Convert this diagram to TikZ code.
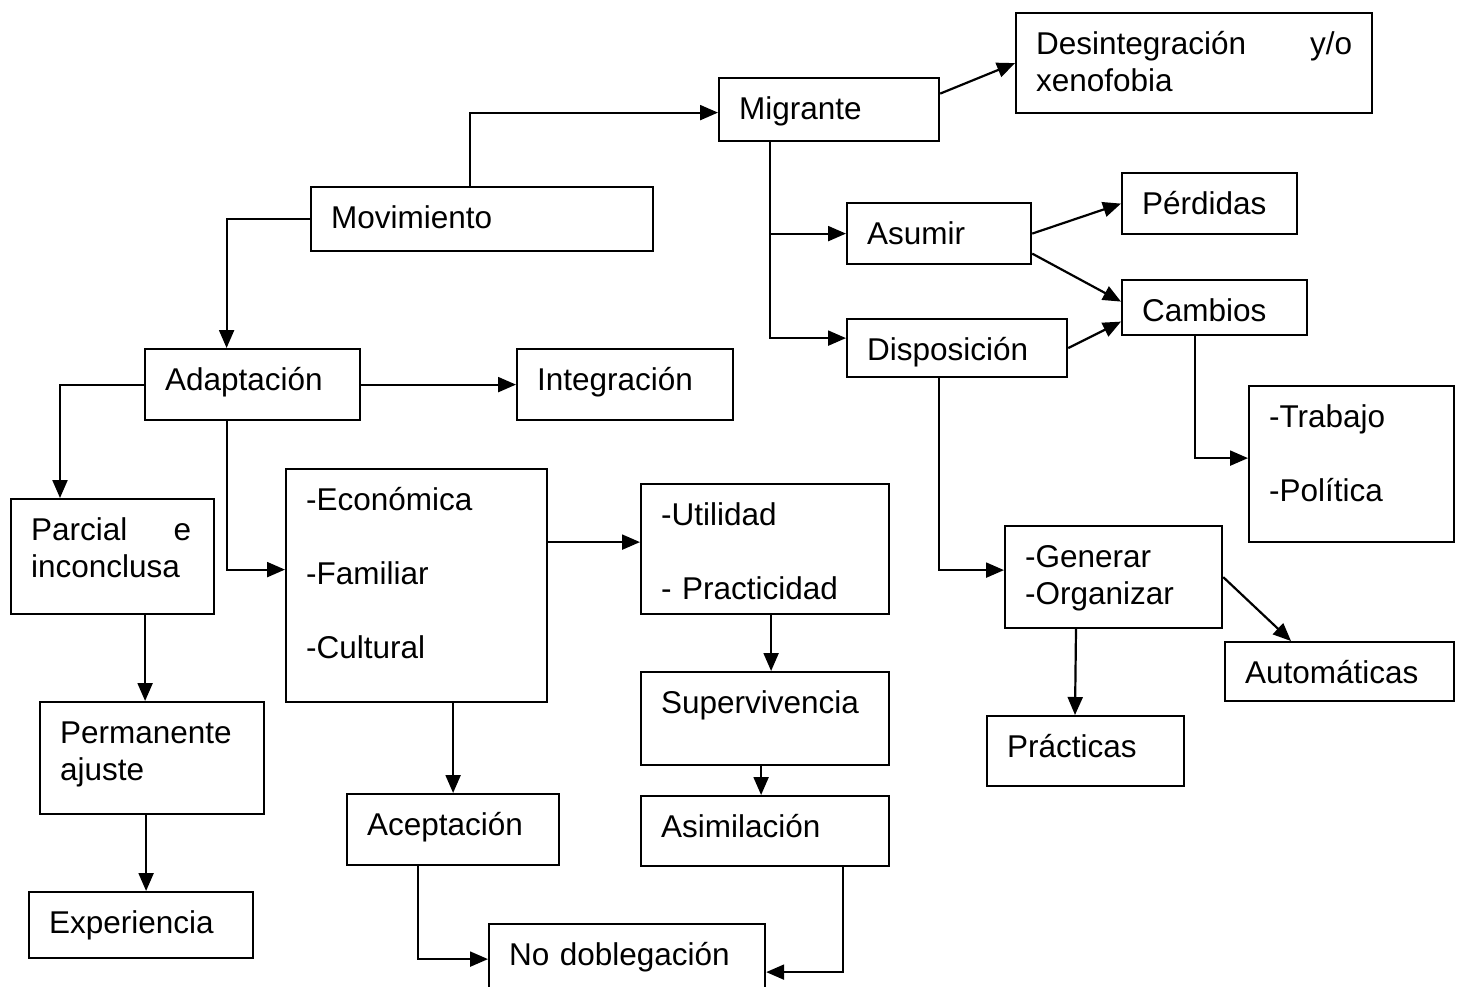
\documentclass[tikz,border=0pt]{standalone}
\usepackage{fontspec}
\setmainfont{Liberation Sans}
\usetikzlibrary{arrows.meta}
\begin{document}
\begin{tikzpicture}[x=1pt, y=-1pt, font=\fontsize{31.5}{37}\selectfont, line width=2.2pt,
          >={Triangle[length=18pt, width=15pt]},
          bx/.style={draw, anchor=north west, align=left, inner xsep=20pt, inner ysep=0pt, text height=41pt}]
  \useasboundingbox (0,0) rectangle (1461,986);
  % upper branch
  \node[bx, text width=302pt, text depth=23pt] (mov) at (310,186) {Movimiento};
  \node[bx, text width=180pt, text depth=22pt] (mig) at (718,77) {Migrante};
  \node[bx, text width=316pt, text depth=59pt] (des) at (1015,12) {\hbox to 316pt{Desintegración\hfill y/o}\\xenofobia};
  \node[bx, text width=144pt, text depth=20pt] (asu) at (846,202) {Asumir};
  \node[bx, text width=135pt, text depth=20pt] (per) at (1121,172) {Pérdidas};
  \node[bx, text width=145pt, text depth=14pt] (cam) at (1121,279) {Cambios};
  \node[bx, text width=180pt, text depth=17pt] (dis) at (846,318) {Disposición};
  \node[bx, text width=165pt, text depth=115pt] (tra) at (1248,385) {-Trabajo\\[37pt]-Política};
  \node[bx, text width=177pt, text depth=61pt] (gen) at (1004,525) {-Generar\\-Organizar};
  \node[bx, text width=189pt, text depth=18pt] (aut) at (1224,641) {Automáticas};
  \node[bx, text width=157pt, text depth=29pt] (pra) at (986,715) {Prácticas};
  % lower branch
  \node[bx, text width=175pt, text depth=30pt] (ada) at (144,348) {Adaptación};
  \node[bx, text width=176pt, text depth=30pt] (int) at (516,348) {Integración};
  \node[bx, text width=163pt, text depth=74pt] (par) at (10,498) {\hbox to 160pt{Parcial\hfill e}\\inconclusa};
  \node[bx, text width=221pt, text depth=192pt] (eco) at (285,468) {-Económica\\[37pt]-Familiar\\[37pt]-Cultural};
  \node[bx, text width=208pt, text depth=89pt] (uti) at (640,483) {-Utilidad\\[37pt]- Practicidad};
  \node[bx, text width=184pt, text depth=71pt] (pme) at (39,701) {Permanente\\ajuste};
  \node[bx, text width=208pt, text depth=52pt] (sup) at (640,671) {Supervivencia};
  \node[bx, text width=172pt, text depth=30pt] (ace) at (346,793) {Aceptación};
  \node[bx, text width=208pt, text depth=29pt] (asi) at (640,795) {Asimilación};
  \node[bx, text width=184pt, text depth=25pt] (exp) at (28,891) {Experiencia};
  \node[bx, text width=236pt, text depth=29pt] (nod) at (488,923) {No doblegación};
  % connectors
  \draw[->] ([xshift=-12pt]mov.north) |- ([yshift=-3pt]mig.west);
  \draw[->] (mov.west) -| ([xshift=-26pt]ada.north);
  \draw[->] ([yshift=16pt]mig.east) -- (des.west);
  \draw[->] ([xshift=52pt]mig.south west) |- ([yshift=10pt]dis.west);
  \draw[->] ([xshift=52pt]mig.south west |- asu.west) -- (asu.west);
  \draw[->] (asu.east) -- (per.west);
  \draw[->] ([yshift=-20pt]asu.east) -- ([yshift=6pt]cam.west);
  \draw[->] (dis.east) -- ([yshift=-14pt]cam.west);
  \draw[->] ([xshift=-20pt]cam.south) |- ([yshift=6pt]tra.west);
  \draw[->] ([xshift=-18pt]dis.south) |- ([yshift=7pt]gen.west);
  \draw[->] (gen.east) -- ([xshift=67pt]aut.north west);
  \draw[->] ([xshift=72pt]gen.south west) -- ([xshift=89pt]pra.north west);
  \draw[->] (ada.east) -- (int.west);
  \draw[->] (ada.west) -| ([xshift=50pt]par.north west);
  \draw[->] ([xshift=-26pt]ada.south) |- ([yshift=16pt]eco.west);
  \draw[->] ([yshift=7pt]uti.west -| eco.east) -- ([yshift=7pt]uti.west);
  \draw[->] ([xshift=6pt]uti.south) -- ([xshift=6pt]sup.north);
  \draw[->] ([xshift=-4pt]sup.south) -- ([xshift=-4pt]asi.north);
  \draw[->] ([xshift=-7pt]pme.north |- par.south) -- ([xshift=-7pt]pme.north);
  \draw[->] ([xshift=-6pt]pme.south) -- ([xshift=-6pt]pme.south |- exp.north);
  \draw[->] (ace.north |- eco.south) -- (ace.north);
  \draw[->] ([xshift=-35pt]ace.south) |- (nod.west);
  \draw[->] ([xshift=78pt]asi.south) |- ([yshift=-13pt]nod.east);
\end{tikzpicture}
\end{document}
